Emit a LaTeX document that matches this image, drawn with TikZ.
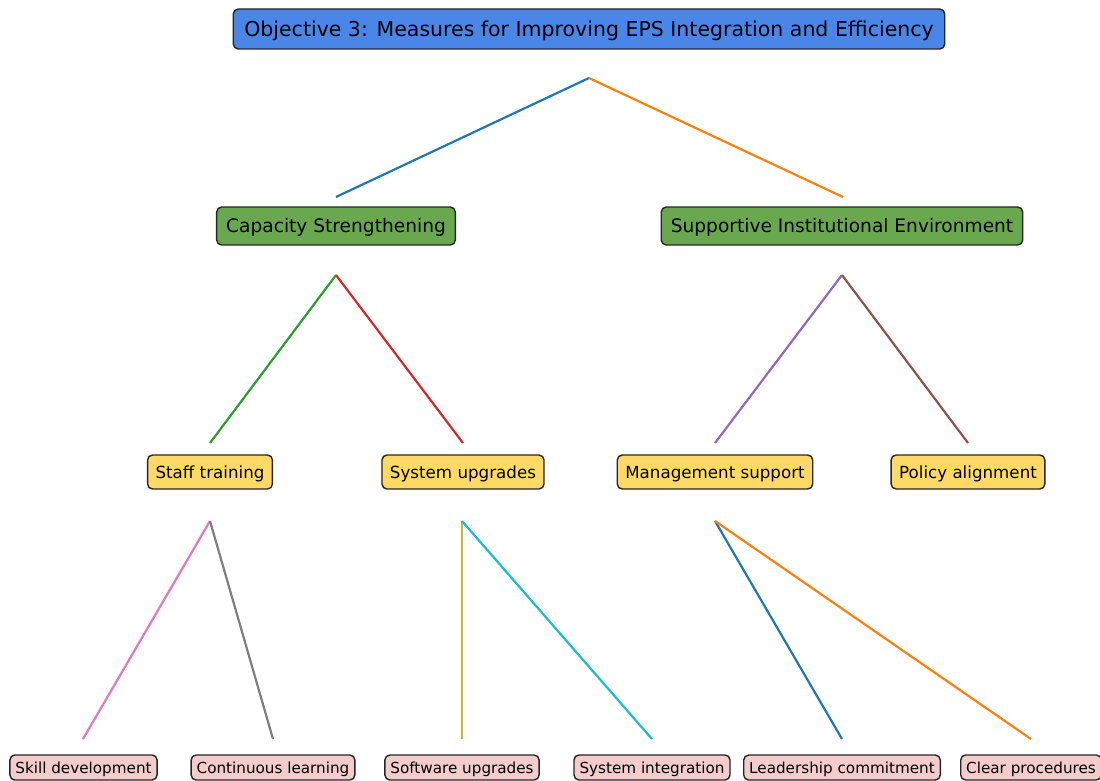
\documentclass[tikz,border=0pt]{standalone}
\usepackage{fontspec}
\setmainfont{DejaVu Sans}
\definecolor{titleblue}{RGB}{74,134,232}
\definecolor{lvgreen}{RGB}{106,168,79}
\definecolor{lvyellow}{RGB}{255,217,102}
\definecolor{lvpink}{RGB}{244,204,204}
\definecolor{cBlue}{RGB}{31,119,180}
\definecolor{cOrange}{RGB}{255,127,14}
\definecolor{cGreen}{RGB}{44,160,44}
\definecolor{cRed}{RGB}{214,39,40}
\definecolor{cPurple}{RGB}{148,103,189}
\definecolor{cBrown}{RGB}{140,86,75}
\definecolor{cPink}{RGB}{227,119,194}
\definecolor{cGray}{RGB}{127,127,127}
\definecolor{cOlive}{RGB}{188,189,34}
\definecolor{cCyan}{RGB}{23,190,207}
\begin{document}
\begin{tikzpicture}[x=1pt,y=-1pt,
  box/.style={draw=black!85, line width=1.4pt, rounded corners=5pt, inner ysep=0pt, anchor=center},
  titlebox/.style={box, fill=titleblue, font=\fontsize{20.5}{24}\selectfont, minimum height=40pt, inner xsep=11pt, text height=18.5pt, text depth=4pt},
  lvtwobox/.style={box, fill=lvgreen, font=\fontsize{18.6}{22}\selectfont, minimum height=38pt, inner xsep=9.5pt, text height=17.6pt, text depth=4pt},
  lvthreebox/.style={box, fill=lvyellow, font=\fontsize{16.7}{20}\selectfont, minimum height=34pt, inner xsep=8pt, text height=16.2pt, text depth=4pt},
  leafbox/.style={box, fill=lvpink, font=\fontsize{15.2}{18}\selectfont, minimum height=25pt, inner xsep=5.5pt, text height=15.1pt, text depth=4pt},
  link/.style={line width=2.2pt}
]
\useasboundingbox (0,0) rectangle (1100,781);

% nodes
\node[titlebox] (root) at (589,29) {Objective 3: Measures for Improving EPS Integration and Efficiency};
\node[lvtwobox] (cap) at (336,226) {Capacity Strengthening};
\node[lvtwobox] (sup) at (842,226) {Supportive Institutional Environment};
\node[lvthreebox] (staff) at (210,472) {Staff training};
\node[lvthreebox] (sysup) at (463,472) {System upgrades};
\node[lvthreebox] (mgmt) at (715,472) {Management support};
\node[lvthreebox] (policy) at (968,472) {Policy alignment};
\node[leafbox] (skill) at (83.5,767.5) {Skill development};
\node[leafbox] (cont) at (273,767.5) {Continuous learning};
\node[leafbox] (soft) at (462,767.5) {Software upgrades};
\node[leafbox] (sysint) at (652,767.5) {System integration};
\node[leafbox] (lead) at (842,767.5) {Leadership commitment};
\node[leafbox] (clear) at (1031,767.5) {Clear procedures};

% connector end points
\coordinate (rootB) at (589,78);
\coordinate (capT) at (336,197);
\coordinate (supT) at (843,197);
\coordinate (capB) at (336,275);
\coordinate (supB) at (842,275);
\coordinate (staffT) at (210,443);
\coordinate (sysupT) at (463,443);
\coordinate (mgmtT) at (715,443);
\coordinate (policyT) at (968,443);
\coordinate (staffB) at (210,521);
\coordinate (sysupB) at (462,521);
\coordinate (mgmtB) at (715,521);
\coordinate (skillT) at (83,739);
\coordinate (contT) at (273,739);
\coordinate (softT) at (462,739);
\coordinate (sysintT) at (652,739);
\coordinate (leadT) at (842,739);
\coordinate (clearT) at (1031,739);

% connectors
\draw[link, cBlue] (rootB) -- (capT);
\draw[link, cOrange] (rootB) -- (supT);
\draw[link, cGreen] (capB) -- (staffT);
\draw[link, cRed] (capB) -- (sysupT);
\draw[link, cPurple] (supB) -- (mgmtT);
\draw[link, cBrown] (supB) -- (policyT);
\draw[link, cPink] (staffB) -- (skillT);
\draw[link, cGray] (staffB) -- (contT);
\draw[link, cOlive] (sysupB) -- (softT);
\draw[link, cCyan] (sysupB) -- (sysintT);
\draw[link, cBlue] (mgmtB) -- (leadT);
\draw[link, cOrange] (mgmtB) -- (clearT);
\end{tikzpicture}
\end{document}
